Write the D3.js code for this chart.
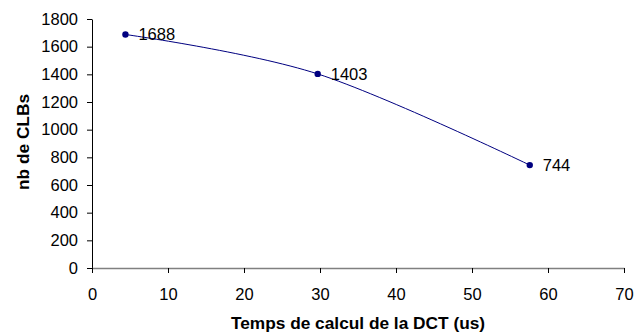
<!DOCTYPE html>
<head>
    <meta charset="utf-8">
    <style>
        body { margin: 0; background: #fff; }
        svg { display: block; font-family: "Liberation Sans", Arial, sans-serif; }
    </style>
</head>
<body>
<svg width="634" height="335"></svg>
<script src="https://cdn.jsdelivr.net/npm/d3@7"></script>
<script>

// data
var temps = [4.4, 29.7, 57.6];
var clbs = [1688, 1403, 744];
var xTicks = [0, 10, 20, 30, 40, 50, 60, 70];
var yTicks = [0, 200, 400, 600, 800, 1000, 1200, 1400, 1600, 1800];

var svg = d3.select("svg"),
    plotLeft = 92, plotRight = 624, plotTop = 19, plotBottom = 268;

var x = d3.scaleLinear().domain([0, 70]).range([plotLeft, plotRight]);
var y = d3.scaleLinear().domain([0, 1800]).range([plotBottom, plotTop]);

// y axis
var yAxis = svg.append("g")
    .attr("transform", "translate(" + plotLeft + ",0)")
    .call(d3.axisLeft(y).tickValues(yTicks).tickFormat(d3.format("d"))
        .tickSize(5).tickPadding(9).tickSizeOuter(0));

// x axis
var xAxis = svg.append("g")
    .attr("transform", "translate(0," + plotBottom + ")")
    .call(d3.axisBottom(x).tickValues(xTicks).tickFormat(d3.format("d"))
        .tickSize(5).tickPadding(15).tickSizeOuter(0));

svg.selectAll(".domain").attr("stroke", "#000");
xAxis.select(".domain").attr("stroke", "#808080").attr("stroke-width", 1.5);
svg.selectAll(".tick line").attr("stroke", "#000");
svg.selectAll(".tick text").attr("font-size", 16.5).attr("fill", "#000")
    .attr("font-family", "Liberation Sans, Arial, sans-serif");

// axis titles
svg.append("text")
    .attr("x", (plotLeft + plotRight) / 2)
    .attr("y", 329)
    .attr("text-anchor", "middle")
    .attr("font-size", 17.3)
    .attr("font-weight", "bold")
    .text("Temps de calcul de la DCT (us)");

svg.append("text")
    .attr("transform", "translate(29,142)rotate(-90)")
    .attr("text-anchor", "middle")
    .attr("font-size", 17.3)
    .attr("font-weight", "bold")
    .text("nb de CLBs");

var pts = temps.map(function(t, i) { return [t, clbs[i]]; });

var line = d3.line()
    .x(function(d) { return x(d[0]); })
    .y(function(d) { return y(d[1]); })
    .curve(d3.curveCardinal.tension(0));

svg.append("path")
    .datum(pts)
    .attr("fill", "none")
    .attr("stroke", "#000080")
    .attr("stroke-width", 1)
    .attr("d", line);

svg.selectAll("circle.pt")
    .data(pts)
    .enter().append("circle")
      .attr("class", "pt")
      .attr("cx", function(d) { return x(d[0]); })
      .attr("cy", function(d) { return y(d[1]); })
      .attr("r", 3.2)
      .attr("fill", "#000080");

svg.selectAll("text.lbl")
    .data(pts)
    .enter().append("text")
      .attr("class", "lbl")
      .attr("x", function(d) { return x(d[0]) + 13; })
      .attr("y", function(d) { return y(d[1]); })
      .attr("dy", "0.36em")
      .attr("font-size", 16.5)
      .text(function(d) { return d[1]; });

</script>
</body>
